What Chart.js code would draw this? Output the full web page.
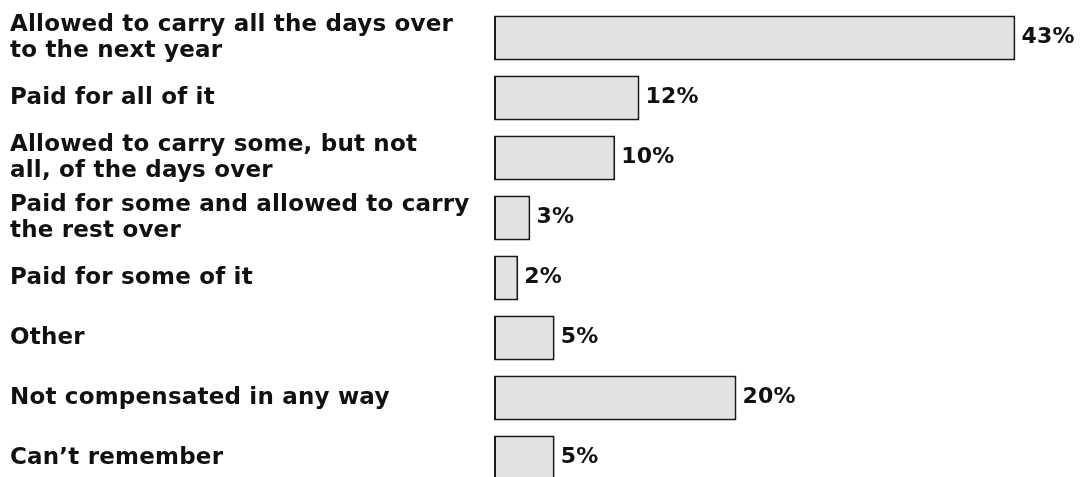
<!DOCTYPE html>
<html lang="en">
<head>
  <meta charset="UTF-8" />
  <title>Unused leave</title>
  <script src="https://cdn.jsdelivr.net/npm/chart.js"></script>
  <style>
    html, body { margin: 0; padding: 0; background: #ffffff; overflow: hidden; }
    .chart-wrap { position: relative; width: 1082px; height: 490px; }
  </style>
</head>
<body>
  <div class="chart-wrap">
    <canvas id="leaveChart"></canvas>
  </div>

<script>
  const categories = [
    ['Allowed to carry all the days over', 'to the next year'],
    'Paid for all of it',
    ['Allowed to carry some, but not', 'all, of the days over'],
    ['Paid for some and allowed to carry', 'the rest over'],
    'Paid for some of it',
    'Other',
    'Not compensated in any way',
    "Can\u2019t remember"
  ];
  const percentages = [43, 12, 10, 3, 2, 5, 20, 5];

  const FONT_FAMILY = "'DejaVu Sans', 'Liberation Sans', Arial, sans-serif";
  const TRACKING = '0.2px';
  const labelFont = { family: FONT_FAMILY, size: 23, weight: 'bold', lineHeight: 1.12 };

  const spacing = {
    id: 'spacing',
    beforeInit(chart) { chart.ctx.letterSpacing = TRACKING; },
    beforeUpdate(chart) { chart.ctx.letterSpacing = TRACKING; },
    beforeDraw(chart) { chart.ctx.letterSpacing = TRACKING; }
  };

  // percentage next to the end of each bar
  const valueLabels = {
    id: 'valueLabels',
    afterDatasetsDraw(chart) {
      const ctx = chart.ctx;
      const meta = chart.getDatasetMeta(0);
      ctx.save();
      ctx.letterSpacing = TRACKING;
      ctx.font = "bold 22px " + FONT_FAMILY;
      ctx.fillStyle = '#111111';
      ctx.textAlign = 'left';
      ctx.textBaseline = 'middle';
      meta.data.forEach((bar, i) => {
        ctx.fillText(percentages[i] + '%', bar.x + 6, bar.y - 1);
      });
      ctx.restore();
    }
  };

  new Chart(document.getElementById('leaveChart'), {
    type: 'bar',
    data: {
      labels: categories,
      datasets: [{
        data: percentages,
        backgroundColor: '#e2e2e2',
        borderColor: '#1a1a1a',
        borderWidth: 2,
        borderSkipped: false,
        barPercentage: 0.75,
        categoryPercentage: 1
      }]
    },
    options: {
      indexAxis: 'y',
      responsive: true,
      maintainAspectRatio: false,
      animation: false,
      layout: { padding: { left: 10, right: 6, top: 8, bottom: 2 } },
      plugins: { legend: { display: false }, tooltip: { enabled: false } },
      scales: {
        x: { display: false, min: 0, max: 48 },
        y: {
          grid: { display: false },
          border: { display: false },
          afterFit(scale) {
            scale.width = 484;
            scale.paddingTop = 0;
            scale.paddingBottom = 0;
          },
          ticks: {
            autoSkip: false,
            crossAlign: 'far',
            color: '#111111',
            font: labelFont
          }
        }
      }
    },
    plugins: [spacing, valueLabels]
  });
</script>
</body>
</html>
